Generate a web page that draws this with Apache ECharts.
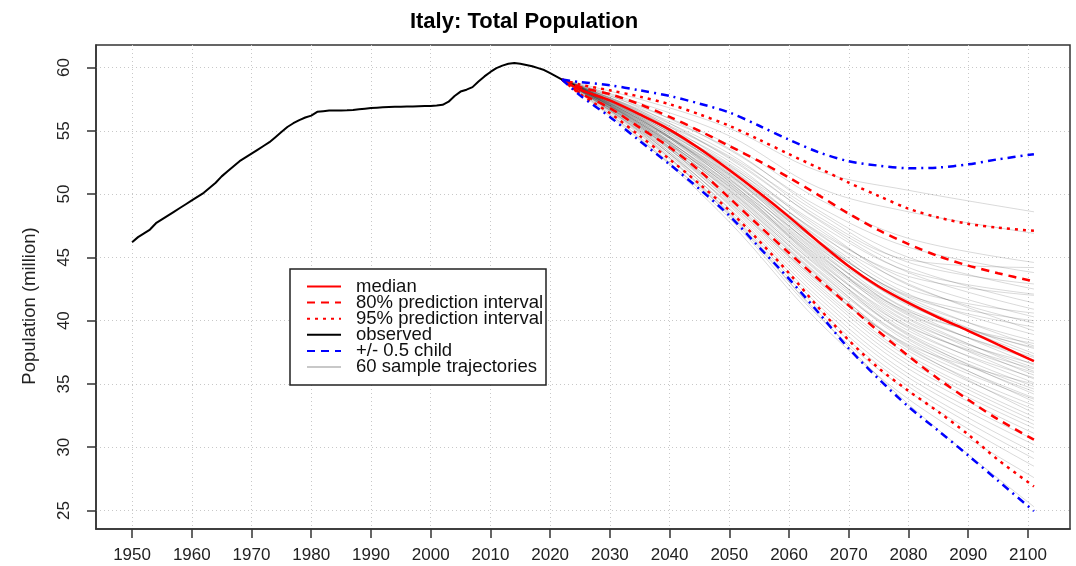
<!DOCTYPE html>
<html>
<head>
<meta charset="utf-8">
<title>Italy: Total Population</title>
<script src="https://cdn.jsdelivr.net/npm/echarts@6/dist/echarts.min.js"></script>
<style>
html, body { margin: 0; padding: 0; background: #fff; }
#chart { width: 1076px; height: 566px; }
</style>
</head>
<body>
<div id="chart"></div>
<script>
// observed, 1950..2022 (million)
var obsStart = 1950;
var obsPop = [46.2, 46.6, 46.9, 47.2, 47.7, 48.0, 48.3, 48.6, 48.9, 49.2,
	49.5, 49.8, 50.1, 50.5, 50.9, 51.4, 51.8, 52.2, 52.6, 52.9,
	53.2, 53.5, 53.8, 54.1, 54.5, 54.9, 55.3, 55.6, 55.85, 56.05,
	56.2, 56.5, 56.55, 56.6, 56.6, 56.6, 56.62, 56.65, 56.7, 56.75,
	56.8, 56.83, 56.86, 56.88, 56.9, 56.9, 56.92, 56.93, 56.95, 56.96,
	56.97, 57.0, 57.05, 57.3, 57.75, 58.1, 58.25, 58.45, 58.9, 59.3,
	59.65, 59.95, 60.15, 60.3, 60.35, 60.3, 60.2, 60.1, 59.95, 59.8,
	59.55, 59.3, 59.05];

// projections
var projYears = [2022, 2025, 2030, 2035, 2040, 2045, 2050, 2055, 2060, 2065, 2070, 2075, 2080, 2085, 2090, 2095, 2101];
var medianPop = [59.05, 58.25, 57.4, 56.3, 55.1, 53.6, 51.9, 50.1, 48.2, 46.2, 44.3, 42.7, 41.4, 40.25, 39.2, 38.1, 36.8];
var pi80High = [59.05, 58.45, 57.9, 57.1, 56.1, 55.0, 53.8, 52.6, 51.3, 49.9, 48.45, 47.15, 46.05, 45.1, 44.35, 43.75, 43.1];
var pi80Low = [59.05, 58.0, 56.8, 55.25, 53.7, 51.85, 49.7, 47.5, 45.35, 43.25, 41.2, 39.15, 37.2, 35.4, 33.75, 32.2, 30.6];
var pi95High = [59.05, 58.65, 58.2, 57.7, 57.1, 56.3, 55.4, 54.3, 53.15, 52.05, 50.9, 49.85, 48.85, 48.15, 47.65, 47.35, 47.1];
var pi95Low = [59.05, 57.9, 56.4, 54.6, 52.75, 50.8, 48.7, 46.3, 43.75, 41.0, 38.45, 36.25, 34.45, 32.8, 31.0, 29.0, 26.9];
var childHigh = [59.05, 58.85, 58.6, 58.2, 57.75, 57.15, 56.45, 55.4, 54.3, 53.3, 52.6, 52.25, 52.05, 52.1, 52.35, 52.75, 53.15];
var childLow = [59.05, 57.8, 56.1, 54.2, 52.35, 50.4, 48.3, 45.8, 43.3, 40.6, 37.8, 35.4, 33.2, 31.3, 29.35, 27.35, 24.95];

// sample trajectories: value at 2022 then at 2035, 2050, 2065, 2080, 2101
var trajYears = [2022, 2035, 2050, 2065, 2080, 2101];
var trajStart = 59.05;
var trajs = [
	[57.5, 55.2, 51.8, 50.3, 48.6], [57.2, 54.6, 50.5, 48.6, 46.9], [56.9, 53.9, 49.6, 46.5, 44.6],
	[57.0, 53.5, 49.0, 45.8, 43.8], [56.7, 53.6, 48.7, 45.0, 42.5], [56.5, 53.0, 48.5, 44.6, 42.9],
	[56.8, 52.8, 48.0, 44.2, 41.4], [56.4, 52.9, 47.9, 43.8, 40.9], [56.6, 52.4, 47.6, 43.9, 42.1],
	[56.2, 52.6, 47.2, 43.2, 40.3], [56.3, 52.2, 47.4, 42.8, 39.8], [56.5, 52.1, 46.9, 42.5, 40.6],
	[56.1, 52.3, 46.8, 42.9, 39.2], [56.0, 51.9, 46.6, 42.1, 38.9], [56.4, 51.7, 46.3, 41.9, 39.5],
	[56.2, 51.8, 46.5, 41.6, 38.4], [55.9, 51.6, 46.2, 41.8, 38.0], [56.1, 51.5, 46.0, 41.2, 37.8],
	[56.3, 51.9, 45.9, 41.5, 37.4], [55.8, 51.4, 45.8, 40.9, 37.9], [56.0, 51.2, 45.7, 41.3, 37.2],
	[56.2, 51.6, 45.5, 40.6, 36.9], [55.9, 51.3, 45.4, 40.8, 36.5], [55.7, 51.1, 45.6, 40.5, 37.1],
	[56.1, 51.0, 45.2, 40.2, 36.3], [55.8, 51.2, 45.0, 40.4, 36.0], [55.6, 50.9, 45.3, 39.9, 36.6],
	[56.0, 50.8, 44.9, 40.1, 35.7], [55.7, 50.7, 44.8, 39.6, 35.9], [55.9, 51.0, 44.6, 39.8, 35.4],
	[55.5, 50.6, 44.7, 39.4, 35.1], [55.8, 50.5, 44.4, 39.2, 35.5], [55.6, 50.4, 44.2, 39.0, 34.8],
	[55.4, 50.6, 44.5, 38.8, 34.6], [55.7, 50.3, 44.0, 38.9, 34.2], [55.5, 50.2, 43.8, 38.6, 34.4],
	[55.3, 50.0, 43.9, 38.3, 33.9], [55.6, 50.1, 43.6, 38.5, 33.6], [55.4, 49.9, 43.4, 38.0, 33.8],
	[55.2, 49.8, 43.5, 37.8, 33.3], [55.5, 49.7, 43.2, 37.6, 33.0], [55.3, 49.6, 43.0, 37.9, 32.7],
	[55.1, 49.5, 42.8, 37.3, 32.4], [55.4, 49.4, 42.6, 37.1, 32.1], [55.0, 49.2, 42.4, 36.8, 31.8],
	[55.2, 49.1, 42.1, 36.5, 31.5], [54.9, 48.9, 41.8, 36.2, 31.1], [55.1, 48.8, 41.5, 35.8, 30.6],
	[54.8, 48.6, 41.2, 35.5, 30.2], [54.7, 48.5, 40.9, 35.1, 29.6], [54.9, 48.3, 40.6, 34.8, 29.1],
	[54.5, 48.1, 40.3, 34.4, 28.5], [54.4, 47.8, 39.9, 33.8, 27.6], [54.3, 48.4, 40.4, 33.4, 25.3],
	[56.6, 53.2, 48.2, 44.8, 44.2], [56.3, 52.0, 47.0, 43.5, 42.0], [55.9, 51.5, 46.2, 42.0, 40.0],
	[55.6, 50.8, 45.1, 40.7, 38.2], [55.3, 50.3, 44.3, 39.5, 36.2], [55.0, 49.3, 43.1, 38.1, 35.0]
];

var xTicks = [1950, 1960, 1970, 1980, 1990, 2000, 2010, 2020, 2030, 2040, 2050, 2060, 2070, 2080, 2090, 2100];
var yTicks = [25, 30, 35, 40, 45, 50, 55, 60];

var legendNames = ['median', '80% prediction interval', '95% prediction interval', 'observed', '+/- 0.5 child', '60 sample trajectories'];

var FONT = 'Liberation Sans, Arial, Helvetica, sans-serif';
var DASH = [8, 6], DOT = [3, 5], DASHDOT = [8, 5, 2, 5];

function pairs(years, vals) {
	var out = [];
	for(var i = 0; i < vals.length; i++) {
		out.push([years[i], vals[i]]);
	}
	return out;
}

function makeLine(name, data, color, type, width, z, smooth) {
	return {
		name: name,
		type: 'line',
		data: data,
		symbol: 'none',
		smooth: smooth,
		z: z,
		silent: true,
		lineStyle: {
			color: color,
			type: type,
			width: width,
			cap: 'butt'
		},
		itemStyle: {
			color: color
		}
	};
}

var series = [];
for(var t = 0; t < trajs.length; t++) {
	series.push(makeLine('60 sample trajectories', pairs(trajYears, [trajStart].concat(trajs[t])), 'rgba(0,0,0,0.15)', 'solid', 1, 1, 0.35));
}
series.push(makeLine('95% prediction interval', pairs(projYears, pi95High), '#ff0000', DOT, 2.5, 3, 0.3));
series.push(makeLine('95% prediction interval', pairs(projYears, pi95Low), '#ff0000', DOT, 2.5, 3, 0.3));
series.push(makeLine('80% prediction interval', pairs(projYears, pi80High), '#ff0000', DASH, 2.5, 3, 0.3));
series.push(makeLine('80% prediction interval', pairs(projYears, pi80Low), '#ff0000', DASH, 2.5, 3, 0.3));
series.push(makeLine('median', pairs(projYears, medianPop), '#ff0000', 'solid', 2.5, 4, 0.3));
var obsData = [];
for(var k = 0; k < obsPop.length; k++) {
	obsData.push([obsStart + k, obsPop[k]]);
}
series.push(makeLine('observed', obsData, '#000000', 'solid', 2, 4, false));
series.push(makeLine('+/- 0.5 child', pairs(projYears, childHigh), '#0000ff', DASHDOT, 2.5, 5, 0.3));
series.push(makeLine('+/- 0.5 child', pairs(projYears, childLow), '#0000ff', DASHDOT, 2.5, 5, 0.3));

// legend: line only, no marker
var legendData = [];
for(var n = 0; n < legendNames.length; n++) {
	var item = { name: legendNames[n], itemStyle: { opacity: 0, borderWidth: 0 } };
	if(legendNames[n] == '60 sample trajectories') {
		item.lineStyle = { color: '#c8c8c8', width: 2 };
	}
	if(legendNames[n] == '+/- 0.5 child') {
		item.lineStyle = { type: DASH };
	}
	legendData.push(item);
}

var chart = echarts.init(document.getElementById('chart'), null, { renderer: 'canvas' });
chart.setOption({
	animation: false,
	backgroundColor: '#ffffff',
	textStyle: { fontFamily: FONT },
	title: {
		text: 'Italy: Total Population',
		left: 519,
		top: 6,
		textAlign: 'center',
		textStyle: { fontFamily: FONT, fontSize: 22, fontWeight: 'bold', color: '#000' }
	},
	grid: {
		left: 96,
		right: 6,
		top: 45,
		bottom: 37,
		show: true,
		borderColor: '#333',
		borderWidth: 1.5,
		backgroundColor: 'transparent'
	},
	legend: {
		orient: 'vertical',
		left: 306,
		top: 277,
		padding: 0,
		itemWidth: 34,
		itemHeight: 16,
		itemGap: -2.9,
		z: 6,
		selectedMode: false,
		itemStyle: { opacity: 0, borderWidth: 0 },
		data: legendData,
		textStyle: { fontFamily: FONT, fontSize: 18.5, color: '#111', padding: [0, 0, 0, 10] }
	},
	xAxis: {
		type: 'value',
		min: 1943.96,
		max: 2107.04,
		axisLine: { show: true, lineStyle: { color: '#333', width: 1.5 } },
		axisTick: { show: true, length: 9, customValues: xTicks, lineStyle: { color: '#333', width: 1.5 } },
		axisLabel: {
			customValues: xTicks,
			margin: 18,
			fontFamily: FONT,
			fontSize: 17,
			color: '#222',
			formatter: function(v) { return String(v); }
		},
		splitLine: { show: true, lineStyle: { color: '#c8c8c8', type: [1, 3], width: 1 } }
	},
	yAxis: {
		type: 'value',
		min: 23.54,
		max: 61.78,
		axisLine: { show: true, lineStyle: { color: '#333', width: 1.5 } },
		axisTick: { show: true, length: 9, customValues: yTicks, lineStyle: { color: '#333', width: 1.5 } },
		axisLabel: {
			customValues: yTicks,
			rotate: 90,
			margin: 23,
			fontFamily: FONT,
			fontSize: 17,
			color: '#222',
			formatter: function(v) { return String(v); }
		},
		splitLine: { show: true, lineStyle: { color: '#c8c8c8', type: [1, 3], width: 1 } }
	},
	graphic: [{
		type: 'rect',
		z: 5,
		shape: { x: 290, y: 269, width: 256, height: 116 },
		style: { fill: '#ffffff', stroke: '#222', lineWidth: 1.5 }
	}, {
		type: 'text',
		x: 30,
		y: 306,
		rotation: Math.PI / 2,
		style: {
			text: 'Population (million)',
			font: '18.5px ' + FONT,
			fill: '#222',
			align: 'center',
			verticalAlign: 'middle'
		}
	}],
	series: series
});
</script>
</body>
</html>
